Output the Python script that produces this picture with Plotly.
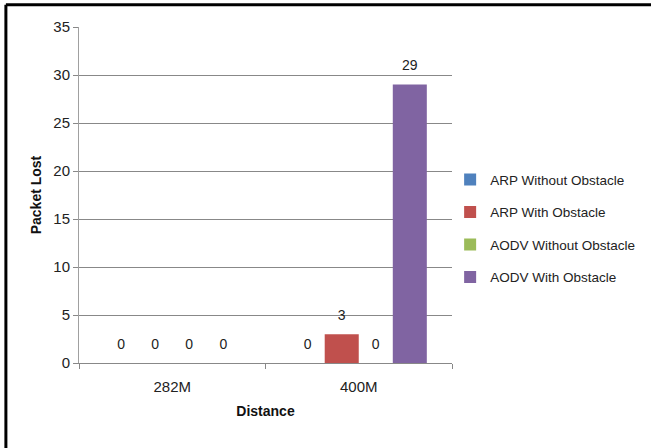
import plotly.graph_objects as go

categories = ["282M", "400M"]
series_names = ["ARP Without Obstacle", "ARP With Obstacle", "AODV Without Obstacle", "AODV With Obstacle"]
arp_without = [0, 0]
arp_with = [0, 3]
aodv_without = [0, 0]
aodv_with = [0, 29]
colors = ["#4F81BD", "#C0504D", "#9BBB59", "#8064A2"]
y_ticks = [0, 5, 10, 15, 20, 25, 30, 35]

FONT = "Liberation Sans"
series = [arp_without, arp_with, aodv_without, aodv_with]

fig = go.Figure()
for i, (name, vals, col) in enumerate(zip(series_names, series, colors)):
    fig.add_trace(go.Bar(
        x=categories, y=vals, name=name, marker_color=col,
        marker_line_width=0, offsetgroup=str(i), legendgroup=str(i),
    ))
for i, vals in enumerate(series):
    fig.add_trace(go.Scatter(
        x=categories, y=vals, mode="markers+text", text=[str(v) for v in vals],
        textposition="top center", marker=dict(size=16, opacity=0),
        textfont=dict(family=FONT, size=14, color="#222222"),
        offsetgroup=str(i), showlegend=False, hoverinfo="skip", cliponaxis=False,
    ))

fig.update_layout(
    width=651, height=448,
    margin=dict(l=79, r=199, t=27, b=85, autoexpand=False),
    paper_bgcolor="white", plot_bgcolor="white",
    barmode="group", bargap=0.27, bargroupgap=0,
    scattermode="group", scattergap=0.27,
    font=dict(family=FONT, size=14, color="#222222"),
    showlegend=True,
    legend=dict(x=0.995, y=0.40, xanchor="left", yanchor="middle",
                font=dict(family=FONT, size=13.5, color="#222222"),
                tracegroupgap=12, itemwidth=30, bgcolor="rgba(0,0,0,0)"),
    xaxis=dict(
        title=dict(text="<b>Distance</b>", font=dict(family=FONT, size=14, color="#111"), standoff=12),
        showline=True, linecolor="#888888", linewidth=1,
        ticks="outside", tickson="boundaries", ticklen=5, tickcolor="#888888",
        ticklabelstandoff=10,
        tickfont=dict(family=FONT, size=15, color="#222222"),
        showgrid=False,
    ),
    yaxis=dict(
        title=dict(text="<b>Packet Lost</b>", font=dict(family=FONT, size=14, color="#111"), standoff=8),
        range=[0, 35], tickvals=y_ticks,
        showline=True, linecolor="#A0A0A0", linewidth=1,
        ticks="outside", ticklen=5, tickcolor="#888888",
        showgrid=True, gridcolor="#888888", gridwidth=1,
        zeroline=False,
        tickfont=dict(family=FONT, size=15, color="#222222"),
    ),
    shapes=[
        dict(type="line", xref="paper", yref="paper", x0=-0.196, x1=1.6, y0=1.066, y1=1.066,
             line=dict(color="black", width=3)),
        dict(type="line", xref="paper", yref="paper", x0=-0.196, x1=-0.196, y0=1.066, y1=-0.3,
             line=dict(color="black", width=3)),
    ],
)

fig.write_html("out.html", config={"displayModeBar": False},
               post_script="document.body.style.margin='0';")
